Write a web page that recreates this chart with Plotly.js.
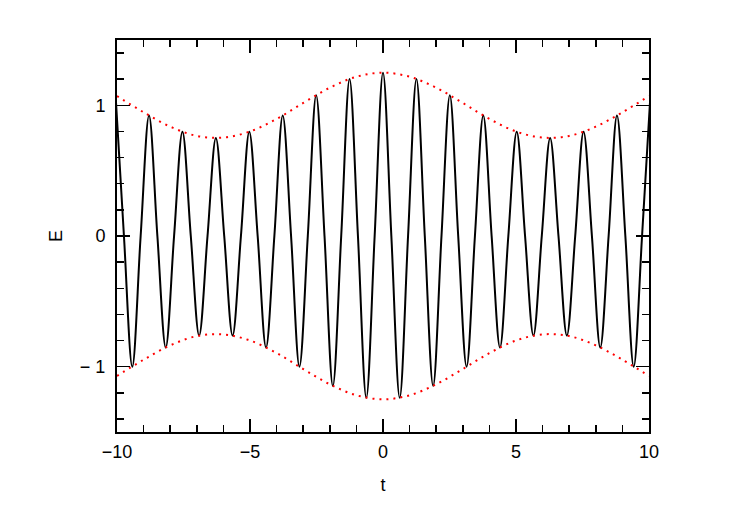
<!DOCTYPE html>
<html>
<head>
<meta charset="utf-8">
<script src="https://cdn.plot.ly/plotly-3.0.1.min.js"></script>
<style>html,body{margin:0;padding:0;background:#fff;}#plot{width:734px;height:513px;}</style>
</head>
<body>
<div id="plot"></div>
<script>
const tSignal = [
 -10.053,-9.739,-9.425,-9.111,-8.796,-8.482,-8.168,-7.854,-7.540,-7.226,
 -6.912,-6.597,-6.283,-5.969,-5.655,-5.341,-5.027,-4.712,-4.398,-4.084,
 -3.770,-3.456,-3.142,-2.827,-2.513,-2.199,-1.885,-1.571,-1.257,-0.942,
 -0.628,-0.314,0,0.314,0.628,0.942,1.257,1.571,1.885,2.199,
 2.513,2.827,3.142,3.456,3.770,4.084,4.398,4.712,5.027,5.341,
 5.655,5.969,6.283,6.597,6.912,7.226,7.540,7.854,8.168,8.482,
 8.796,9.111,9.425,9.739,10.053
];
const eSignal = [
 1.077,0,-1.0,0,0.923,0,-0.853,0,0.798,0,
 -0.762,0,0.75,0,-0.762,0,0.798,0,-0.853,0,
 0.923,0,-1.0,0,1.077,0,-1.147,0,1.202,0,
 -1.238,0,1.25,0,-1.238,0,1.202,0,-1.147,0,
 1.077,0,-1.0,0,0.923,0,-0.853,0,0.798,0,
 -0.762,0,0.75,0,-0.762,0,0.798,0,-0.853,0,
 0.923,0,-1.0,0,1.077
];
// Envelope (red dotted)
const tEnv = [-10,-9,-8,-7,-6,-5,-4,-3,-2,-1,0,1,2,3,4,5,6,7,8,9,10];
const eUpper = [1.071,0.947,0.837,0.766,0.753,0.800,0.896,1.018,1.135,1.219,1.25,1.219,1.135,1.018,0.896,0.800,0.753,0.766,0.837,0.947,1.071];
const eLower = [-1.071,-0.947,-0.837,-0.766,-0.753,-0.800,-0.896,-1.018,-1.135,-1.219,-1.25,-1.219,-1.135,-1.018,-0.896,-0.800,-0.753,-0.766,-0.837,-0.947,-1.071];

const xTickVals = [-10,-5,0,5,10];
const xTickText = ['\u221210','\u22125','0','5','10'];
const yTickVals = [-1,0,1];
const yTickText = ['\u2212 1','0','1'];

const traces = [
  {x: tSignal, y: eSignal, mode: 'lines', line: {color: '#000', width: 2, shape: 'spline', smoothing: 1.0}, hoverinfo: 'skip'},
  {x: tEnv, y: eUpper, mode: 'lines', line: {color: '#ff0000', width: 2, dash: '2px,5px', shape: 'spline'}, hoverinfo: 'skip'},
  {x: tEnv, y: eLower, mode: 'lines', line: {color: '#ff0000', width: 2, dash: '2px,5px', shape: 'spline'}, hoverinfo: 'skip'}
];

const font = {family: 'Liberation Sans, Arial, sans-serif', size: 18, color: '#000'};
const layout = {
  width: 734, height: 513,
  margin: {l: 117, r: 85, t: 40, b: 81},
  paper_bgcolor: '#fff', plot_bgcolor: '#fff',
  showlegend: false,
  font: font,
  xaxis: {
    range: [-10, 10], showgrid: false, zeroline: false,
    showline: true, linecolor: '#000', linewidth: 2, mirror: 'ticks',
    ticks: 'inside', ticklen: 13, tickwidth: 1.5, tickcolor: '#000',
    tickvals: xTickVals, ticktext: xTickText, tickfont: font, ticklabelstandoff: 2,
    minor: {dtick: 1, ticks: 'inside', ticklen: 7, tickwidth: 1.5, tickcolor: '#000', showgrid: false},
    title: {text: 't', font: font, standoff: 18}
  },
  yaxis: {
    range: [-1.5, 1.5], showgrid: false, zeroline: false,
    showline: true, linecolor: '#000', linewidth: 2, mirror: 'ticks',
    ticks: 'inside', ticklen: 13, tickwidth: 1.5, tickcolor: '#000',
    tickvals: yTickVals, ticktext: yTickText, tickfont: font, ticklabelstandoff: 6,
    minor: {dtick: 0.2, tick0: 0, ticks: 'inside', ticklen: 7, tickwidth: 1.5, tickcolor: '#000', showgrid: false},
    title: {text: 'E', font: font, standoff: 13}
  }
};
Plotly.newPlot('plot', traces, layout, {staticPlot: true, displayModeBar: false});
</script>
</body>
</html>
